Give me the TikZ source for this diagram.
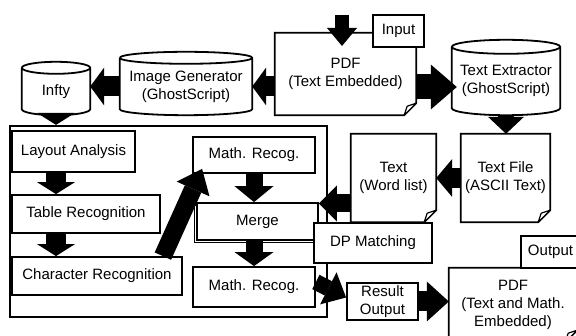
\documentclass[tikz,border=0pt]{standalone}
\usepackage{fontspec}
\setmainfont{Liberation Sans}
\usetikzlibrary{arrows.meta,calc}

\newcommand\lbl{\fontsize{15pt}{18pt}\selectfont}

\tikzset{
  boxline/.style={draw=black, line width=1.8pt, line join=miter},
  procbox/.style={boxline, fill=white, inner sep=0pt, align=center, font=\lbl},
  plain/.style={inner sep=0pt, align=center, font=\lbl},
  sz/.style 2 args={minimum width=#1pt, minimum height=#2pt},
  barrow/.style n args={3}{draw=black, line width=#1pt,
    -{Triangle[length=#3pt, width=#2pt, line width=0pt]}},
}

% page outline with a folded lower-right corner
\newcommand\pageoutline[2]{%
  \draw[boxline] (#1.north west) -- (#1.north east) -- ([yshift=#2pt]#1.south east)
    -- ([xshift=-#2pt]#1.south east) -- (#1.south west) -- cycle;
  \draw[line width=1.2pt, line join=round, fill=white] ([yshift=#2pt]#1.south east)
    -- ([xshift=-#2pt]#1.south east) -- ([shift={(-0.75*#2pt,0.75*#2pt)}]#1.south east) -- cycle;}

% drum (cylinder) outline around a node; the node's top edge is the centre line of the lid
\newcommand\drumoutline[2]{%
  \draw[boxline] let \p1=(#1.north west), \p2=(#1.south east), \n1={(\x2-\x1)/2} in
    (\p1) -- (\x1,\y2+#2pt) arc[start angle=180, end angle=360, x radius=\n1, y radius=#2pt]
    -- (\x2,\y1) arc[start angle=0, end angle=180, x radius=\n1, y radius=#2pt]
    (\p1) arc[start angle=180, end angle=360, x radius=\n1, y radius=#2pt];}

\begin{document}
\begin{tikzpicture}[x=1pt, y=1pt]
\useasboundingbox (0,0) rectangle (576,-336);
\clip (0,0) rectangle (576,-336);

% recognition frame (Infty)
\node[boxline, line width=2.2pt, sz={317}{191}] (frame) at (168.5,-221.5) {};

% left column
\node[procbox, sz={123}{41}] (layout) at (73.5,-151.5) {Layout Analysis};
\node[procbox, sz={148}{38}] (table) at (86,-214) {Table Recognition};
\node[procbox, sz={170}{38}] (char) at (97,-276) {Character Recognition};

% math column
\node[procbox, sz={122}{36}] (mathr1) at (254,-155) {Math. Recog.};
\draw[line width=1pt] (194.5,-205.5) rectangle (315.5,-242.5);
\node[procbox, sz={121}{37}] (merge) at (257.5,-221.5) {Merge};
\node[procbox, sz={122}{40}] (mathr2) at (254,-287) {Math. Recog.};

% matching and output
\node[procbox, sz={118}{40}] (dp) at (373,-243) {DP Matching};
\node[procbox, sz={71}{37}] (result) at (382.5,-301.5) {Result\\Output};

% documents
\node[plain, sz={141}{82}] (pdf1) at (345.5,-74) {PDF\\(Text Embedded)};
\pageoutline{pdf1}{12}
\node[plain, sz={89}{88}] (textfile) at (505.5,-178) {Text File\\(ASCII Text)};
\pageoutline{textfile}{12}
\node[plain, sz={85}{88}] (wordlist) at (393.5,-178) {Text\\(Word list)};
\pageoutline{wordlist}{12}
\node[plain, sz={128}{74}] (pdf2) at (513,-305) {PDF\\(Text and Math.\\Embedded)};
\pageoutline{pdf2}{12}

\node[procbox, sz={51}{32}] (input) at (398.5,-31) {Input};
\node[procbox, sz={59}{32}] (output) at (550.5,-252) {Output};

% tools
\node[plain, sz={132}{57}] (imggen) at (186,-86.5) {Image Generator\\(GhostScript)};
\drumoutline{imggen}{6}
\node[plain, sz={68}{47}] (infty) at (56,-91.5) {Infty};
\drumoutline{infty}{6}
\node[plain, sz={108}{68}] (textextr) at (506,-81) {Text Extractor\\(GhostScript)};
\drumoutline{textextr}{7}

% data flow
\coordinate (infeed) at (342,-15);
\coordinate (intip) at (342,-46);
\draw[barrow={14}{30}{18}] (infeed) -- (intip);
\draw[barrow={20}{38}{14}] (pdf1.west |- imggen.east) -- (imggen.east);
\draw[barrow={20}{38}{14}] (imggen.west) -- (imggen.west -| infty.east);
\coordinate (tx) at ([yshift=-6pt]textextr.west);
\draw[barrow={25}{45}{26}] (tx -| pdf1.east) -- ([xshift=5pt]tx);
\draw[barrow={16}{36}{17}] (textextr.south) -- (textextr.south |- textfile.north);
\draw[barrow={20}{38}{16}] (textfile.west) -- (textfile.west -| wordlist.east);
\coordinate (mg) at ([yshift=18pt]merge.east);
\draw[barrow={18}{36}{18}] (mg -| wordlist.west) -- (mg);

\draw[barrow={22}{38}{12}] (infty.south) -- (infty.south |- frame.north);
\draw[barrow={20}{38}{12}] (infty.south |- layout.south) -- (infty.south |- table.north);
\draw[barrow={20}{38}{12}] (infty.south |- table.south) -- (infty.south |- char.north);
\draw[barrow={18}{36}{22}] ([xshift=-20pt]char.north east) -- ([shift={(10pt,5pt)}]mathr1.south west);
\draw[barrow={17}{39}{16}] (mathr1.south) -- (mathr1.south |- merge.north);
\draw[barrow={17}{39}{14}] (mathr1.south |- merge.south) -- (mathr2.north);
\draw[barrow={16}{36}{20}] ([yshift=5pt]mathr2.east) -- ([yshift=4pt]result.west);
\draw[barrow={20}{40}{22}] (result.east) -- (result.east -| pdf2.west);
\end{tikzpicture}
\end{document}
